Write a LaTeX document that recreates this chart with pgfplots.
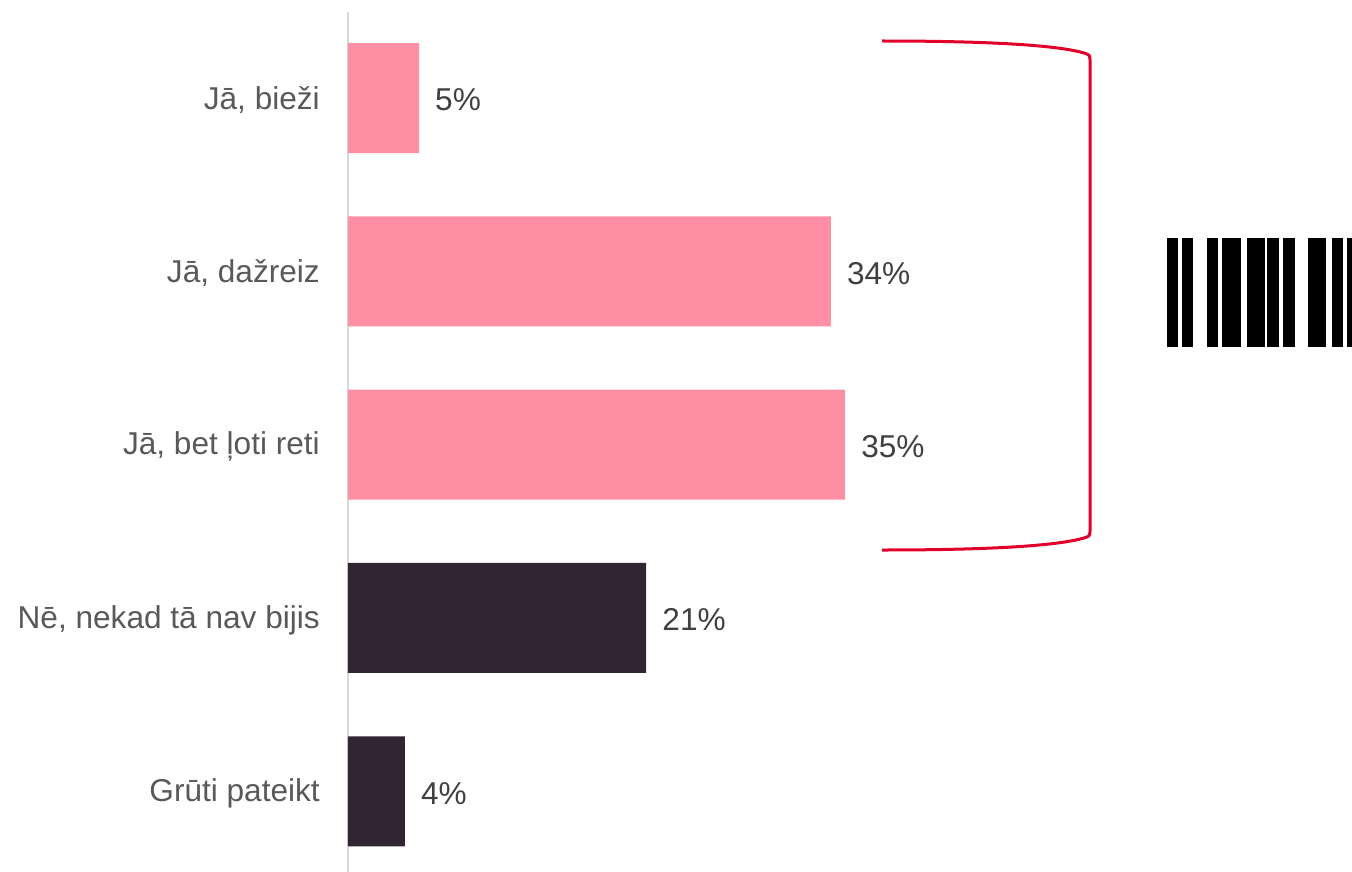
\documentclass[border=0pt]{standalone}
\usepackage{pgfplots}
\pgfplotsset{compat=1.18}
\usepackage{fontspec}
\setmainfont{Liberation Sans}
\definecolor{pinkbar}{RGB}{255,143,164}
\definecolor{darkbar}{RGB}{49,36,51}
\definecolor{labgray}{RGB}{89,89,89}
\definecolor{valgray}{RGB}{64,64,64}
\definecolor{bracketred}{RGB}{226,0,43}
\definecolor{axgray}{RGB}{217,217,217}
\begin{document}
\begin{tikzpicture}
\path[use as bounding box] (0,0) rectangle (1352pt,-872pt);
\begin{axis}[
  at={(348pt,-872pt)}, anchor=south west,
  scale only axis, width=1004pt, height=872pt,
  xmin=0, xmax=70.704, ymin=-0.5655, ymax=4.466,
  y dir=reverse,
  xbar, bar width=110pt, bar shift=0pt,
  axis line style={draw=none},
  xtick=\empty,
  ytick={0,1,2,3,4},
  yticklabels={{Jā, bieži},{Jā, dažreiz},{Jā, bet ļoti reti},{Nē, nekad tā nav bijis},{Grūti pateikt}},
  major tick length=0pt,
  /pgf/number format/assume math mode=true,
  yticklabel style={font=\fontsize{31.6}{36}\selectfont, text=labgray, inner sep=0pt, xshift=-28pt, yshift=-2pt},
  nodes near coords={\pgfmathprintnumber{\pgfplotspointmeta}\%},
  nodes near coords style={font=\fontsize{31.6}{36}\selectfont, text=valgray, anchor=west, inner sep=0pt, xshift=16pt, yshift=-2pt},
  clip=false,
]
\draw[axgray, line width=1.5pt] (axis cs:0,-0.496) -- (axis cs:0,4.466);
\addplot[fill=pinkbar, draw=none] coordinates {(5,0) (34,1) (35,2)};
\addplot[fill=darkbar, draw=none] coordinates {(21,3) (4,4)};
\end{axis}
\draw[bracketred, line width=3pt] (882pt,-41pt) .. controls (1000pt,-41pt) and (1060pt,-46pt) .. (1084pt,-53pt) .. controls (1090pt,-55pt) .. (1090pt,-62pt) -- (1090pt,-529pt) .. controls (1090pt,-536pt) .. (1084pt,-538pt) .. controls (1060pt,-545pt) and (1000pt,-550pt) .. (882pt,-550pt);
\foreach \a/\b in {1166.7/1177.7,1182.3/1193.3,1206.7/1217.7,1222.3/1241.3,1246.7/1265.3,1267.3/1278.7,1283.3/1294.7,1307.7/1326.3,1331.7/1342.7,1347.3/1352}
  \fill[black] (\a pt,-238pt) rectangle (\b pt,-347pt);
\end{tikzpicture}
\end{document}
